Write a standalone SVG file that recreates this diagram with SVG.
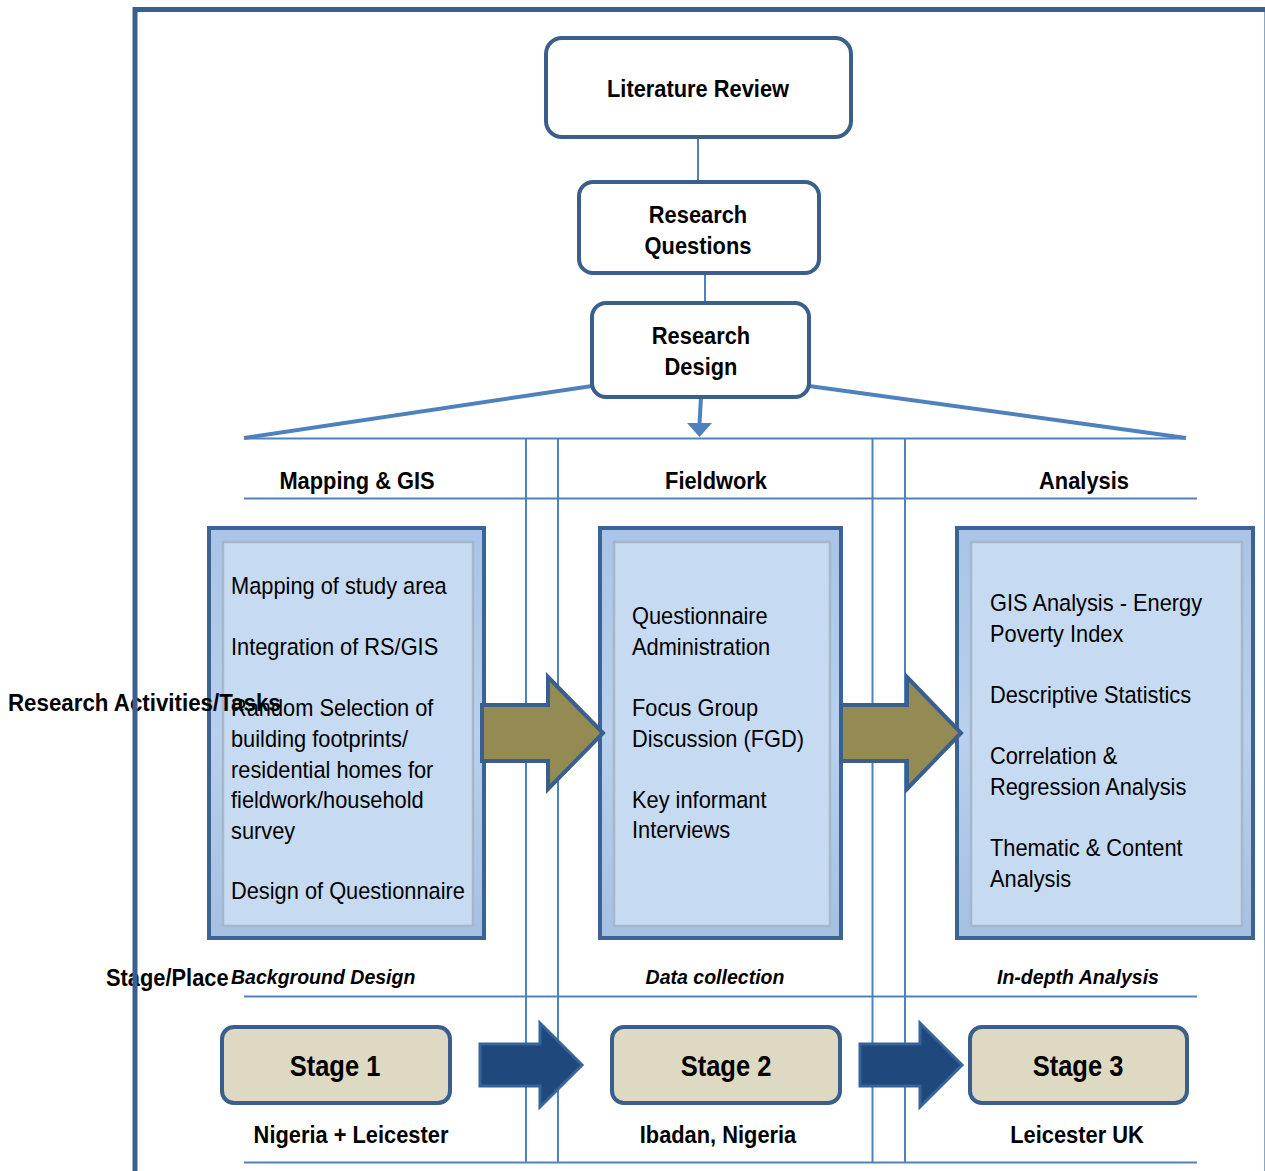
<svg xmlns="http://www.w3.org/2000/svg" width="1265" height="1171" viewBox="0 0 1265 1171">
  <defs>
    <style>
      .bold { font-family: "Liberation Sans", Arial, sans-serif; font-weight: bold; fill: #000; }
      .body { font-family: "Liberation Sans", Arial, sans-serif; font-size: 24.5px; fill: #000; }
      .head { font-size: 24px; }
      .ital { font-size: 21px; font-style: italic; }
      .stage { font-size: 30px; }
      .flow { fill: #fff; stroke: #3a5f8c; stroke-width: 4; }
      .thin { stroke: #4f81bd; stroke-width: 2; fill: none; }
      .thick { stroke: #4f81bd; stroke-width: 4; fill: none; }
      .panel-outer { fill: url(#band); stroke: #3d6393; stroke-width: 4; }
      .panel-inner { fill: #c6daf2; stroke: #a7b7ca; stroke-width: 2.5; }
      .olive { fill: #948a54; stroke: #3a5f8c; stroke-width: 4; stroke-linejoin: miter; }
      .navy { fill: #1f497d; stroke: #35639a; stroke-width: 3; }
      .stagebox { fill: #ddd9c3; stroke: #3a5f8c; stroke-width: 4; }
    </style>
    <linearGradient id="band" x1="0" y1="0" x2="0" y2="1">
      <stop offset="0" stop-color="#a9c4e6"/>
      <stop offset="0.5" stop-color="#b9d0ee"/>
      <stop offset="1" stop-color="#a6c0e2"/>
    </linearGradient>
  </defs>

  <rect width="1265" height="1171" fill="#fff"/>

  <!-- grid of the three columns -->
  <g id="connectors">
    <line class="thin" x1="698" y1="137" x2="698" y2="182"/>
    <line class="thin" x1="705" y1="273" x2="705" y2="303"/>
    <line class="thick" x1="592" y1="386" x2="244" y2="438"/>
    <line class="thick" x1="809" y1="386" x2="1186" y2="438"/>
    <line class="thick" x1="701" y1="397" x2="699.5" y2="424"/>
    <polygon points="687,423 712,423 699.5,437" fill="#4f81bd"/>
    <line class="thin" x1="244" y1="438.5" x2="1186" y2="438.5"/>
    <line class="thin" x1="244" y1="498.5" x2="1197" y2="498.5"/>
    <line class="thin" x1="244" y1="996.5" x2="1197" y2="996.5"/>
    <line class="thin" x1="244" y1="1162.5" x2="1197" y2="1162.5"/>
    <line class="thin" x1="526" y1="438" x2="526" y2="1163"/>
    <line class="thin" x1="558" y1="438" x2="558" y2="1163"/>
    <line class="thin" x1="872.5" y1="438" x2="872.5" y2="1163"/>
    <line class="thin" x1="905" y1="438" x2="905" y2="1163"/>
  </g>

  <g id="literature-review">
    <rect class="flow" x="546" y="38" width="305" height="99" rx="16"/>
    <text class="bold head" text-anchor="middle" transform="translate(698 97) scale(0.91 1)">Literature Review</text>
  </g>

  <g id="research-questions">
    <rect class="flow" x="579" y="182" width="240" height="91" rx="14"/>
    <text class="bold head" text-anchor="middle" transform="translate(698 223) scale(0.91 1)">Research</text>
    <text class="bold head" text-anchor="middle" transform="translate(698 254) scale(0.91 1)">Questions</text>
  </g>

  <g id="research-design">
    <rect class="flow" x="592" y="303" width="217" height="94" rx="14"/>
    <text class="bold head" text-anchor="middle" transform="translate(701 344) scale(0.91 1)">Research</text>
    <text class="bold head" text-anchor="middle" transform="translate(701 375) scale(0.91 1)">Design</text>
  </g>

  <g id="column-headers">
    <text class="bold head" text-anchor="middle" transform="translate(357 489) scale(0.91 1)">Mapping &amp; GIS</text>
    <text class="bold head" text-anchor="middle" transform="translate(716 489) scale(0.91 1)">Fieldwork</text>
    <text class="bold head" text-anchor="middle" transform="translate(1084 489) scale(0.91 1)">Analysis</text>
  </g>

  <g id="mapping-tasks">
    <rect class="panel-outer" x="209" y="528" width="275" height="410"/>
    <rect class="panel-inner" x="223" y="542" width="250" height="384"/>
    <g class="body">
      <text transform="translate(231 594) scale(0.89 1)">Mapping of study area</text>
      <text transform="translate(231 655) scale(0.89 1)">Integration of RS/GIS</text>
      <text transform="translate(231 716) scale(0.89 1)">Random Selection of</text>
      <text transform="translate(231 747) scale(0.89 1)">building footprints/</text>
      <text transform="translate(231 778) scale(0.89 1)">residential homes for</text>
      <text transform="translate(231 808) scale(0.89 1)">fieldwork/household</text>
      <text transform="translate(231 839) scale(0.89 1)">survey</text>
      <text transform="translate(231 899) scale(0.89 1)">Design of Questionnaire</text>
    </g>
  </g>

  <g id="fieldwork-tasks">
    <rect class="panel-outer" x="600" y="528" width="241" height="410"/>
    <rect class="panel-inner" x="614" y="542" width="216" height="384"/>
    <g class="body">
      <text transform="translate(632 624) scale(0.89 1)">Questionnaire</text>
      <text transform="translate(632 655) scale(0.89 1)">Administration</text>
      <text transform="translate(632 716) scale(0.89 1)">Focus Group</text>
      <text transform="translate(632 747) scale(0.89 1)">Discussion (FGD)</text>
      <text transform="translate(632 808) scale(0.89 1)">Key informant</text>
      <text transform="translate(632 838) scale(0.89 1)">Interviews</text>
    </g>
  </g>

  <g id="analysis-tasks">
    <rect class="panel-outer" x="957" y="528" width="296" height="410"/>
    <rect class="panel-inner" x="971" y="542" width="271" height="384"/>
    <g class="body">
      <text transform="translate(990 611) scale(0.89 1)">GIS Analysis - Energy</text>
      <text transform="translate(990 642) scale(0.89 1)">Poverty Index</text>
      <text transform="translate(990 703) scale(0.89 1)">Descriptive Statistics</text>
      <text transform="translate(990 764) scale(0.89 1)">Correlation &amp;</text>
      <text transform="translate(990 795) scale(0.89 1)">Regression Analysis</text>
      <text transform="translate(990 856) scale(0.89 1)">Thematic &amp; Content</text>
      <text transform="translate(990 887) scale(0.89 1)">Analysis</text>
    </g>
  </g>

  <g id="task-arrows">
    <polygon class="olive" points="482,705 548,705 548,677 603,733 548,789 548,761 482,761"/>
    <polygon class="olive" points="841,705 907,705 907,677 961,733 907,789 907,761 841,761"/>
  </g>

  <g id="stage-labels">
    <text class="bold ital" transform="translate(231 984) scale(0.93 1)">Background Design</text>
    <text class="bold ital" text-anchor="middle" transform="translate(715 984) scale(0.93 1)">Data collection</text>
    <text class="bold ital" text-anchor="middle" transform="translate(1078 984) scale(0.93 1)">In-depth Analysis</text>
  </g>

  <g id="stage-1">
    <rect class="stagebox" x="222" y="1027" width="228" height="76" rx="12"/>
    <text class="bold stage" text-anchor="middle" transform="translate(335 1076) scale(0.85 1)">Stage 1</text>
  </g>
  <g id="stage-2">
    <rect class="stagebox" x="612" y="1027" width="228" height="76" rx="12"/>
    <text class="bold stage" text-anchor="middle" transform="translate(726 1076) scale(0.85 1)">Stage 2</text>
  </g>
  <g id="stage-3">
    <rect class="stagebox" x="970" y="1027" width="217" height="76" rx="12"/>
    <text class="bold stage" text-anchor="middle" transform="translate(1078 1076) scale(0.85 1)">Stage 3</text>
  </g>

  <g id="stage-arrows">
    <polygon class="navy" points="480,1044 540,1044 540,1023 582,1065 540,1107 540,1086 480,1086"/>
    <polygon class="navy" points="860,1044 920,1044 920,1023 962,1065 920,1107 920,1086 860,1086"/>
  </g>

  <g id="places">
    <text class="bold head" text-anchor="middle" transform="translate(351 1143) scale(0.91 1)">Nigeria + Leicester</text>
    <text class="bold head" text-anchor="middle" transform="translate(718 1143) scale(0.91 1)">Ibadan, Nigeria</text>
    <text class="bold head" text-anchor="middle" transform="translate(1077 1143) scale(0.91 1)">Leicester UK</text>
  </g>

  <g id="row-labels">
    <text class="bold head" transform="translate(8 711) scale(0.93 1)">Research Activities/Tasks</text>
    <text class="bold head" transform="translate(106 986) scale(0.91 1)">Stage/Place</text>
  </g>

  <!-- outer frame -->
  <g id="frame">
    <line x1="133" y1="9.5" x2="1265" y2="9.5" stroke="#3a5f8c" stroke-width="5"/>
    <line x1="135" y1="7" x2="135" y2="1171" stroke="#3a5f8c" stroke-width="5"/>
    <line x1="1264.5" y1="12" x2="1264.5" y2="1171" stroke="#8aa4c4" stroke-width="1"/>
  </g>
</svg>
